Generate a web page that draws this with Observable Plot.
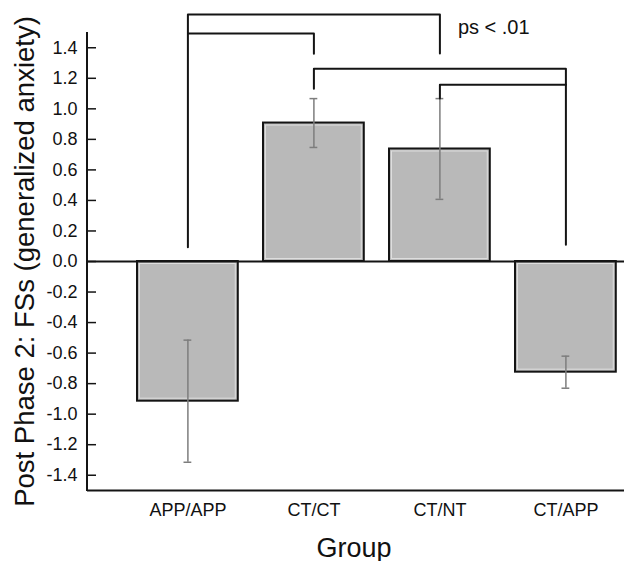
<!DOCTYPE html>
<html>
<head>
<meta charset="utf-8">
<script src="https://cdn.jsdelivr.net/npm/d3@7"></script>
<script src="https://cdn.jsdelivr.net/npm/@observablehq/plot@0.6"></script>
<style>
  html, body { margin: 0; padding: 0; background: #fff; }
  #chart svg { display: block; }
</style>
</head>
<body>
<div id="chart"></div>
<script>
// ---- data ----
const groups = ["APP/APP", "CT/CT", "CT/NT", "CT/APP"];
const means  = [-0.915, 0.907, 0.737, -0.725];
const errors = [0.40, 0.16, 0.33, 0.105];
const yTicks = [-1.4, -1.2, -1.0, -0.8, -0.6, -0.4, -0.2, 0.0, 0.2, 0.4, 0.6, 0.8, 1.0, 1.2, 1.4];

// significance brackets: vertices as [group, value]
const bracket1 = [["APP/APP", 0.094], ["APP/APP", 1.618], ["CT/NT", 1.618], ["CT/NT", 1.362]];
const bracket2 = [["APP/APP", 1.493], ["CT/CT", 1.493], ["CT/CT", 1.360]];
const bracket3 = [["CT/CT", 1.131], ["CT/CT", 1.262], ["CT/APP", 1.262], ["CT/APP", 0.109]];
const bracket4 = [["CT/NT", 1.068], ["CT/NT", 1.157], ["CT/APP", 1.157]];
const sigLabel = [{group: "CT/NT", value: 1.493, text: "ps < .01"}];

const yTitle = "Post Phase 2: FSs (generalized anxiety)";
const xTitle = "Group";

// ---- build ----
const rows = groups.map((g, i) => ({group: g, mean: means[i], lo: means[i] - errors[i], hi: means[i] + errors[i]}));
const brackets = [bracket1, bracket2, bracket3, bracket4].flatMap((b, k) =>
  b.map(([g, v]) => ({id: k, group: g, value: v})));

const W = 624, H = 561, mL = 87, mR = 0, mT = 32, mB = 71;
const frameW = W - mL - mR;

const plot = Plot.plot({
  width: W,
  height: H,
  marginLeft: mL,
  marginRight: mR,
  marginTop: mT,
  marginBottom: mB,
  style: {fontFamily: "'Liberation Sans', Arial, sans-serif", color: "#111", background: "#fff"},
  x: {domain: groups, range: [111.8, 641], padding: 0.2, round: false},
  y: {domain: [-1.5, 1.5]},
  marks: [
    Plot.barY(rows, {x: "group", y: "mean", fill: "#b9b9b9", stroke: "#141414", strokeWidth: 2}),
    Plot.barY(rows, {x: "group", y: "mean", fill: "none", stroke: "#dedede", strokeWidth: 1, inset: 2.5}),
    Plot.ruleY([0], {stroke: "#141414", strokeWidth: 2}),
    Plot.ruleY([-1.5], {stroke: "#141414", strokeWidth: 2}),
    Plot.ruleY(yTicks, {stroke: "#141414", strokeWidth: 1.5, insetRight: frameW - 9}),
    Plot.ruleX(rows, {x: "group", y1: "lo", y2: "hi", stroke: "#7d7d7d", strokeWidth: 1.5}),
    Plot.tickY(rows, {x: "group", y: "lo", stroke: "#7d7d7d", strokeWidth: 1.5, insetLeft: 46.5, insetRight: 46.5}),
    Plot.tickY(rows, {x: "group", y: "hi", stroke: "#7d7d7d", strokeWidth: 1.5, insetLeft: 46.5, insetRight: 46.5}),
    Plot.line(brackets, {x: "group", y: "value", z: "id", stroke: "#141414", strokeWidth: 2, curve: "linear"}),
    Plot.text(sigLabel, {x: "group", y: "value", text: "text", textAnchor: "start", lineAnchor: "bottom", dx: 18, fontSize: 20, fill: "#111"}),
    Plot.axisY(yTicks, {tickSize: 0, tickPadding: 10, fontSize: 18, tickFormat: d => d.toFixed(1), label: null, fill: "#111"}),
    Plot.axisX({tickSize: 0, tickPadding: 13, fontSize: 18, label: null, fill: "#111"}),
    Plot.text([yTitle], {frameAnchor: "left", rotate: -90, textAnchor: "middle", lineAnchor: "bottom", dx: -54, dy: 0, fontSize: 27.5, fill: "#111"}),
    Plot.text([xTitle], {frameAnchor: "bottom", textAnchor: "middle", lineAnchor: "bottom", dy: 66, dx: -2, fontSize: 27, fill: "#111"})
  ]
});

// left axis line
d3.select(plot).append("line")
  .attr("x1", mL).attr("x2", mL)
  .attr("y1", mT).attr("y2", H - mB + 1)
  .attr("stroke", "#141414").attr("stroke-width", 2);

document.getElementById("chart").appendChild(plot);
</script>
</body>
</html>
